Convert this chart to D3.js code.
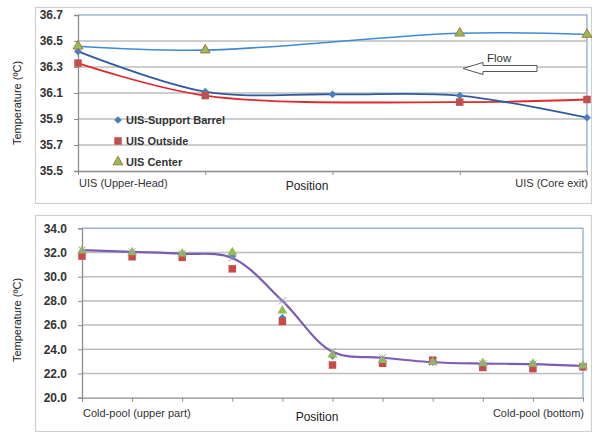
<!DOCTYPE html>
<html>
<head>
<meta charset="utf-8">
<script src="https://cdn.jsdelivr.net/npm/d3@7"></script>
<style>
  body { margin: 0; background: #fff; }
  svg { font-family: "Liberation Sans", Arial, sans-serif; }
</style>
</head>
<body>
<div id="chart-area"></div>
<script>
// top chart: upper internal structure (UIS)
var topCats = ["UIS (Upper-Head)", "p2", "p3", "p4", "UIS (Core exit)"];
var topBarrel = [36.42, 36.11, 36.09, 36.08, 35.91];
var topOutside = [36.33, 36.08, null, 36.03, 36.05];
var topCenter = [36.46, 36.43, null, 36.56, 36.55];
var topTicks = [35.5, 35.7, 35.9, 36.1, 36.3, 36.5, 36.7];

// bottom chart: cold pool
var botCats = ["Cold-pool (upper part)", "c2", "c3", "c4", "c5", "c6", "c7", "c8", "c9", "c10", "Cold-pool (bottom)"];
var botBlue = [32.0, 31.9, 31.8, 31.7, 26.6, 23.45, 23.0, 22.95, 22.8, 22.8, 22.6];
var botRed = [31.7, 31.65, 31.6, 30.65, 26.3, 22.7, 22.84, 23.1, 22.5, 22.4, 22.55];
var botGreen = [32.15, 32.0, 31.9, 32.0, 27.2, 23.55, 23.1, 22.93, 22.85, 22.8, 22.65];
var botPurple = [32.2, 32.05, 31.9, 31.55, 28.0, 23.8, 23.3, 22.93, 22.82, 22.78, 22.62];
var botTicks = [20, 22, 24, 26, 28, 30, 32, 34];

var svg = d3.select("#chart-area")
    .append("svg")
        .attr("width", 592)
        .attr("height", 432);

// diamond = square turned 45 degrees (rotation added where it is drawn)
var symDiamond = d3.symbol().type(d3.symbolSquare).size(30);
var symSquare = d3.symbol().type(d3.symbolSquare).size(56);
var symTriangle = d3.symbol().type(d3.symbolTriangle).size(42);
var symX = d3.symbol().type(d3.symbolX || d3.symbolCross).size(34);

function drawFrame(box, x, y, ticks, fmt, leftLabel, rightLabel, labelY, posX, posY, titleY) {
    // outer chart border
    svg.append("rect")
        .attr("x", box[0] + 0.5).attr("y", box[1] + 0.5)
        .attr("width", box[2]).attr("height", box[3])
        .attr("fill", "none").attr("stroke", "#d0d0d0").attr("stroke-width", 1.2);

    var x0 = x.range()[0], x1 = x.range()[1];
    var yb = y.range()[0], yt = y.range()[1];

    // gridlines
    svg.append("g").selectAll("line")
        .data(ticks.slice(1, ticks.length - 1))
        .enter().append("line")
        .attr("x1", x0).attr("x2", x1)
        .attr("y1", function(d) { return y(d) }).attr("y2", function(d) { return y(d) })
        .attr("stroke", "#bdbdbd").attr("stroke-width", 1.5);

    // plot area top/right border
    svg.append("path")
        .attr("d", "M" + x0 + "," + yt + "H" + x1 + "V" + yb)
        .attr("fill", "none").attr("stroke", "#9db6d4").attr("stroke-width", 1.5);

    // y axis
    var yAxis = svg.append("g")
        .attr("transform", "translate(" + x0 + ",0)")
        .call(d3.axisLeft(y).tickValues(ticks).tickSize(4).tickPadding(11).tickFormat(d3.format(fmt)));
    yAxis.select(".domain").attr("stroke", "#8c8c8c").attr("stroke-width", 1.3);
    yAxis.selectAll(".tick line").attr("stroke", "#8c8c8c");
    yAxis.selectAll("text")
        .attr("font-size", "12px").attr("font-weight", "bold").attr("fill", "#333")
        .attr("font-family", "Liberation Sans, Arial, sans-serif");

    // x axis
    var xAxis = svg.append("g")
        .attr("transform", "translate(0," + yb + ")")
        .call(d3.axisBottom(x).tickSize(4).tickSizeOuter(0).tickFormat(""));
    xAxis.select(".domain").attr("stroke", "#8c8c8c").attr("stroke-width", 1.3);
    xAxis.selectAll(".tick line").attr("stroke", "#8c8c8c");

    svg.append("text")
        .attr("x", x0 + 1).attr("y", labelY)
        .attr("font-size", "11px").attr("fill", "#333")
        .text(leftLabel);
    svg.append("text")
        .attr("x", x1 + 1).attr("y", labelY)
        .attr("text-anchor", "end")
        .attr("font-size", "11px").attr("fill", "#333")
        .text(rightLabel);

    // x title
    svg.append("text")
        .attr("x", posX).attr("y", posY)
        .attr("text-anchor", "middle")
        .attr("font-size", "12px").attr("fill", "#222")
        .text("Position");

    // y title
    svg.append("text")
        .attr("transform", "translate(21," + titleY + ") rotate(-90)")
        .attr("text-anchor", "middle")
        .attr("font-size", "11px").attr("fill", "#222")
        .text("Temperature (ºC)");
}

function drawLine(x, y, cats, vals, color, width, curve) {
    var pts = [];
    vals.forEach(function(v, i) {
        if (v !== null) pts.push([x(cats[i]), y(v)]);
    });
    svg.append("path")
        .attr("d", d3.line().curve(curve)(pts))
        .attr("fill", "none")
        .attr("stroke", color)
        .attr("stroke-width", width);
}

function drawMarks(x, y, cats, vals, sym, fill, stroke, rot) {
    svg.append("g").selectAll("path")
        .data(vals.map(function(v, i) { return {c: cats[i], v: v} }).filter(function(d) { return d.v !== null }))
        .enter().append("path")
        .attr("d", sym)
        .attr("transform", function(d) {
            return "translate(" + x(d.c) + "," + y(d.v) + ")" + (rot ? " rotate(" + rot + ")" : "");
        })
        .attr("fill", fill)
        .attr("stroke", stroke)
        .attr("stroke-width", stroke === "none" ? 0 : 1);
}

// ---------------- top chart
var xT = d3.scalePoint().domain(topCats).range([78, 587]);
var yT = d3.scaleLinear().domain([35.5, 36.7]).range([171, 15]);

drawFrame([35, 7, 556, 196], xT, yT, topTicks, ".1f",
    "UIS (Upper-Head)", "UIS (Core exit)", 187, 307, 190, 103);

drawLine(xT, yT, topCats, topCenter, "#3f8ad6", 1.6, d3.curveCatmullRom);
drawLine(xT, yT, topCats, topOutside, "#dd2b2b", 1.8, d3.curveCatmullRom);
drawLine(xT, yT, topCats, topBarrel, "#2e5b9c", 1.8, d3.curveCatmullRom);

drawMarks(xT, yT, topCats, topBarrel, symDiamond, "#4a7ebf", "none", 45);
drawMarks(xT, yT, topCats, topOutside, symSquare, "#c0504d", "none");
drawMarks(xT, yT, topCats, topCenter, symTriangle, "#9bbb59", "#a0783c");

// legend
var legendNames = ["UIS-Support Barrel", "UIS Outside", "UIS Center"];
var legendSyms = [symDiamond, symSquare, symTriangle];
var legendFill = ["#4a7ebf", "#c0504d", "#9bbb59"];
var legend = svg.append("g").attr("transform", "translate(118,120)");
legendNames.forEach(function(name, i) {
    var row = legend.append("g").attr("transform", "translate(0," + i * 21 + ")");
    row.append("path")
        .attr("d", legendSyms[i])
        .attr("transform", i === 0 ? "rotate(45)" : null)
        .attr("fill", legendFill[i])
        .attr("stroke", i === 2 ? "#a0783c" : "none");
    row.append("text")
        .attr("x", 8).attr("y", 4)
        .attr("font-size", "11px").attr("font-weight", "bold").attr("fill", "#333")
        .text(name);
});

// flow arrow
svg.append("path")
    .attr("d", "M463,68.5 L483,62.5 L483,65.5 L537,65.5 L537,71.5 L483,71.5 L483,74.5 Z")
    .attr("fill", "#fff").attr("stroke", "#555").attr("stroke-width", 1);
svg.append("text")
    .attr("x", 487).attr("y", 62)
    .attr("font-size", "11.5px").attr("fill", "#333")
    .text("Flow");

// ---------------- bottom chart
var xB = d3.scalePoint().domain(botCats).range([82, 583]);
var yB = d3.scaleLinear().domain([20, 34]).range([397.7, 228.3]);

drawFrame([35, 215, 556, 216], xB, yB, botTicks, ".1f",
    "Cold-pool (upper part)", "Cold-pool (bottom)", 417, 317, 421, 320);

drawLine(xB, yB, botCats, botPurple, "#7d5cb3", 2.2, d3.curveCatmullRom);
drawMarks(xB, yB, botCats, botBlue, symDiamond, "#4a7ebf", "none", 45);
drawMarks(xB, yB, botCats, botRed, symSquare, "#c94a46", "none");
drawMarks(xB, yB, botCats, botGreen, symTriangle, "#8fbf4a", "none");
drawMarks(xB, yB, botCats, botPurple, symX, "none", "#a493c8");
</script>
</body>
</html>
